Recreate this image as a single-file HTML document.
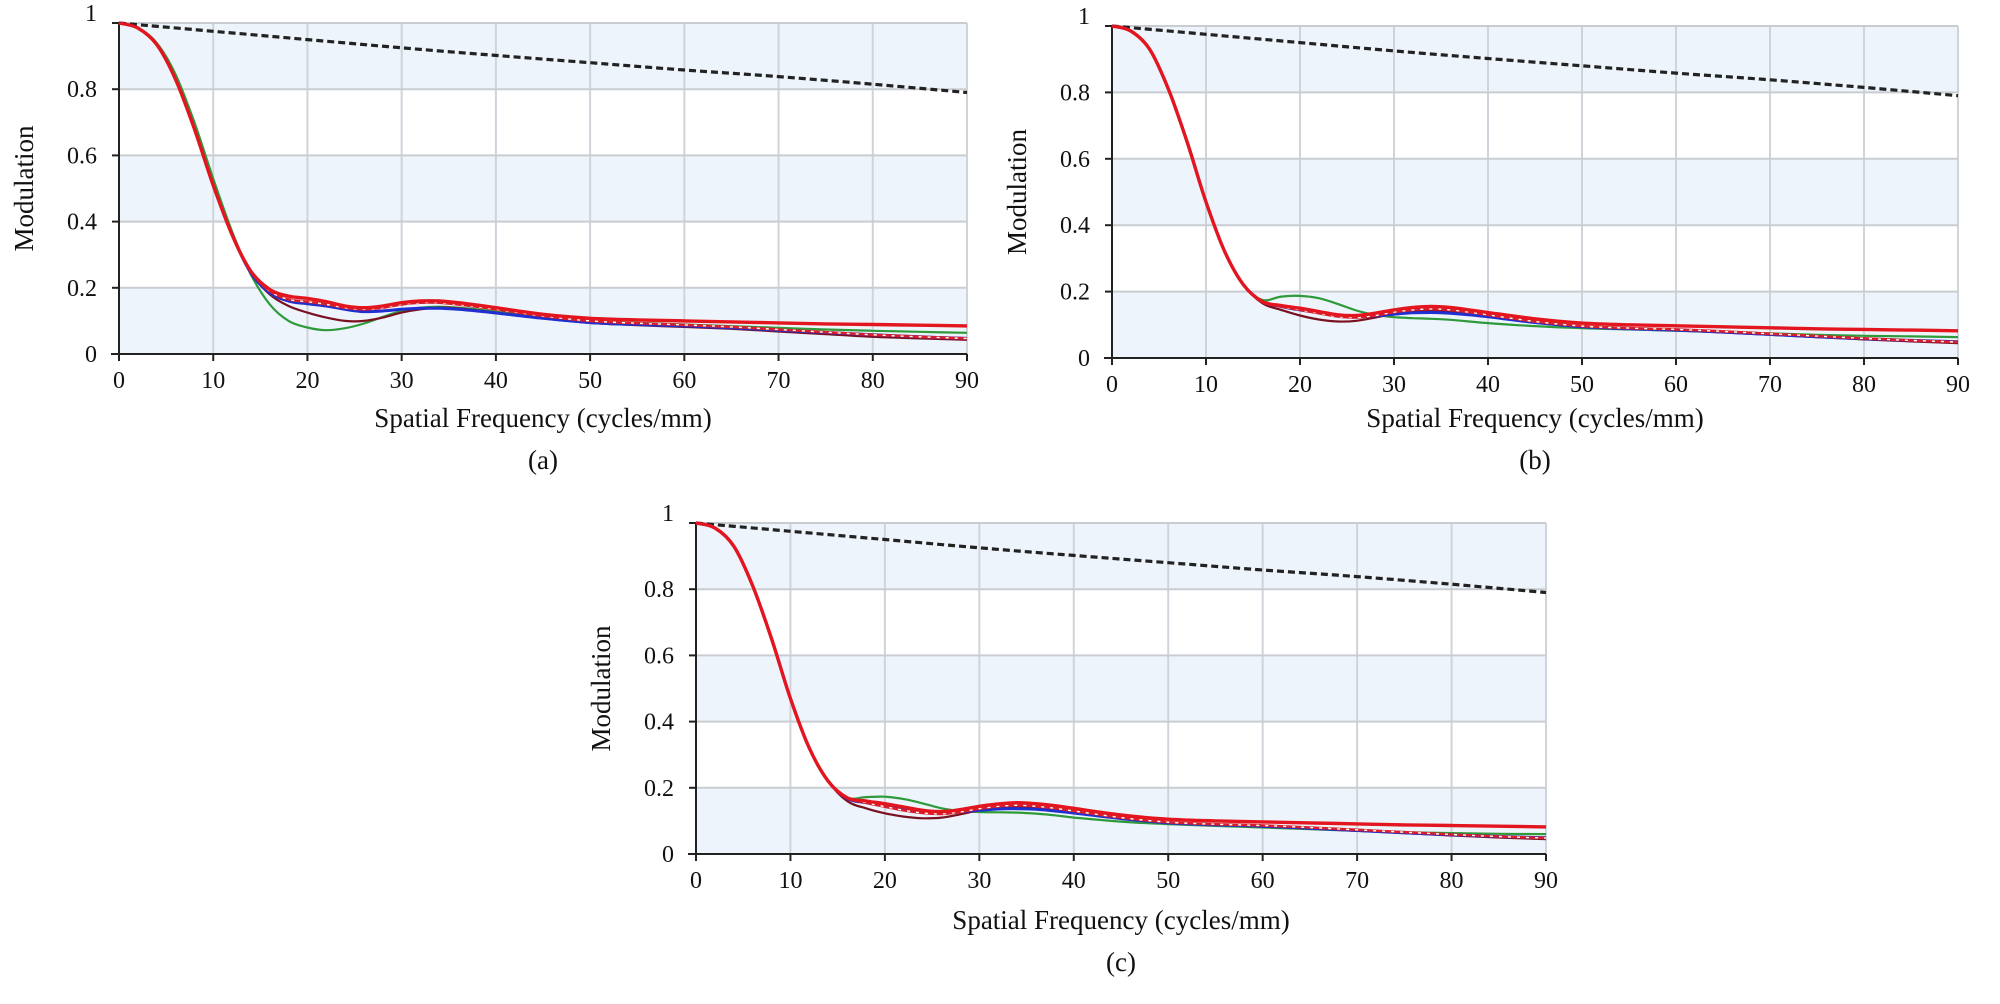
<!DOCTYPE html>
<html><head><meta charset="utf-8">
<style>
html,body{margin:0;padding:0;background:#fff;width:2000px;height:1004px;overflow:hidden}
svg{display:block}
text{font-family:"Liberation Serif",serif;fill:#111}
</style></head>
<body>
<svg id="fig" width="2000" height="1004" viewBox="0 0 2000 1004" xmlns="http://www.w3.org/2000/svg"></svg>
<script>
// ---- data ----
const freqs = [0,2,4,6,8,10,12,14,16,18,20,22,24,26,28,30,32,34,36,38,40,45,50,55,60,65,70,75,80,85,90];
const diffFreqs = [0,10,20,30,40,50,60,70,80,90];
const diffVals = [1,0.975,0.95,0.925,0.902,0.88,0.858,0.838,0.815,0.79];
const xTicks = [0,10,20,30,40,50,60,70,80,90];
const yTicks = [0,0.2,0.4,0.6,0.8,1];
const yTickLabels = ["0","0.2","0.4","0.6","0.8","1"];

// panel (a)
const aRed    = [1,0.985,0.935,0.83,0.68,0.51,0.36,0.25,0.195,0.175,0.168,0.158,0.145,0.14,0.145,0.155,0.16,0.16,0.155,0.148,0.14,0.12,0.108,0.103,0.1,0.097,0.094,0.091,0.089,0.087,0.085];
const aRed2   = [1,0.985,0.935,0.83,0.68,0.51,0.36,0.25,0.19,0.165,0.158,0.15,0.14,0.135,0.14,0.15,0.155,0.155,0.15,0.143,0.135,0.115,0.1,0.093,0.088,0.082,0.074,0.066,0.058,0.052,0.047];
const aGreen  = [1,0.985,0.94,0.845,0.7,0.53,0.37,0.24,0.15,0.1,0.08,0.072,0.078,0.092,0.112,0.13,0.14,0.143,0.14,0.135,0.128,0.112,0.1,0.094,0.089,0.084,0.079,0.074,0.07,0.067,0.064];
const aMaroon = [1,0.985,0.935,0.83,0.68,0.51,0.36,0.245,0.18,0.145,0.125,0.11,0.1,0.1,0.11,0.125,0.135,0.14,0.138,0.132,0.125,0.108,0.094,0.087,0.082,0.076,0.068,0.06,0.052,0.047,0.043];
const aBlue   = [1,0.985,0.935,0.83,0.68,0.51,0.36,0.245,0.185,0.16,0.152,0.145,0.135,0.128,0.13,0.135,0.138,0.138,0.135,0.13,0.124,0.108,0.095,0.089,0.085,0.079,0.072,0.065,0.058,0.052,0.047];

// panel (b)
const bRed    = [1,0.985,0.93,0.81,0.65,0.47,0.32,0.22,0.17,0.158,0.15,0.14,0.13,0.128,0.135,0.145,0.152,0.155,0.152,0.145,0.137,0.118,0.105,0.1,0.097,0.094,0.091,0.088,0.086,0.084,0.082];
const bRed2   = [1,0.985,0.93,0.81,0.65,0.47,0.32,0.22,0.17,0.155,0.145,0.135,0.125,0.122,0.128,0.138,0.145,0.148,0.145,0.138,0.13,0.11,0.096,0.09,0.086,0.08,0.073,0.066,0.059,0.053,0.048];
const bGreen  = [1,0.985,0.93,0.81,0.65,0.47,0.32,0.22,0.175,0.185,0.187,0.18,0.163,0.143,0.13,0.123,0.12,0.118,0.115,0.11,0.105,0.096,0.09,0.086,0.082,0.078,0.074,0.07,0.067,0.065,0.063];
const bMaroon = [1,0.985,0.93,0.81,0.65,0.47,0.32,0.22,0.165,0.145,0.128,0.116,0.11,0.112,0.122,0.133,0.14,0.142,0.14,0.134,0.127,0.108,0.094,0.088,0.083,0.077,0.07,0.063,0.056,0.05,0.045];
const bBlue   = [1,0.985,0.93,0.81,0.65,0.47,0.32,0.22,0.17,0.155,0.145,0.137,0.128,0.124,0.127,0.132,0.136,0.137,0.135,0.13,0.124,0.107,0.094,0.088,0.084,0.078,0.071,0.064,0.058,0.053,0.049];

// panel (c)
const cRed    = [1,0.985,0.93,0.81,0.65,0.47,0.32,0.22,0.17,0.16,0.152,0.142,0.132,0.128,0.134,0.144,0.151,0.155,0.152,0.146,0.138,0.118,0.105,0.1,0.097,0.094,0.091,0.088,0.086,0.084,0.082];
const cRed2   = [1,0.985,0.93,0.81,0.65,0.47,0.32,0.22,0.17,0.155,0.143,0.132,0.124,0.121,0.127,0.137,0.144,0.147,0.144,0.138,0.13,0.11,0.096,0.09,0.086,0.08,0.073,0.066,0.059,0.053,0.048];
const cGreen  = [1,0.985,0.93,0.81,0.65,0.47,0.32,0.22,0.17,0.172,0.173,0.166,0.153,0.138,0.13,0.127,0.126,0.125,0.122,0.117,0.11,0.098,0.09,0.085,0.08,0.075,0.07,0.066,0.063,0.061,0.06];
const cMaroon = [1,0.985,0.93,0.81,0.65,0.47,0.32,0.22,0.16,0.138,0.123,0.113,0.108,0.11,0.12,0.132,0.14,0.142,0.14,0.134,0.127,0.108,0.094,0.088,0.083,0.077,0.07,0.063,0.056,0.05,0.045];
const cBlue   = [1,0.985,0.93,0.81,0.65,0.47,0.32,0.22,0.168,0.155,0.146,0.138,0.13,0.126,0.128,0.132,0.136,0.137,0.135,0.13,0.124,0.107,0.094,0.088,0.084,0.078,0.071,0.064,0.058,0.053,0.049];

const panels = [
  {id:'a', x0:119, x1:967, yTop:23, yZero:354, label:'(a)', titleY:427, capY:469,
   series:[['green',aGreen],['maroon',aMaroon],['blue',aBlue],['red2',aRed2],['red',aRed]]},
  {id:'b', x0:1112, x1:1958, yTop:26, yZero:358, label:'(b)', titleY:427, capY:469,
   series:[['green',bGreen],['maroon',bMaroon],['blue',bBlue],['red2',bRed2],['red',bRed]]},
  {id:'c', x0:696, x1:1546, yTop:523, yZero:854, label:'(c)', titleY:929, capY:971,
   series:[['green',cGreen],['maroon',cMaroon],['blue',cBlue],['red2',cRed2],['red',cRed]]}
];
const styles = {
  green:{stroke:'#2e9a3a',w:2.2},
  maroon:{stroke:'#7a1020',w:2.2},
  blue:{stroke:'#1f2fd0',w:3},
  red2:{stroke:'#d81e2a',w:2.6},
  red:{stroke:'#e3161f',w:3.4}
};

const NS='http://www.w3.org/2000/svg';
const svg=document.getElementById('fig');
function mk(tag,attrs,parent){const e=document.createElementNS(NS,tag);for(const k in attrs)e.setAttribute(k,attrs[k]);(parent||svg).appendChild(e);return e;}
function smoothPath(pts){
  let d='M'+pts[0][0].toFixed(1)+','+pts[0][1].toFixed(1);
  for(let i=0;i<pts.length-1;i++){
    const p0=pts[i-1]||pts[i],p1=pts[i],p2=pts[i+1],p3=pts[i+2]||p2;
    const c1x=p1[0]+(p2[0]-p0[0])/6,c1y=p1[1]+(p2[1]-p0[1])/6;
    const c2x=p2[0]-(p3[0]-p1[0])/6,c2y=p2[1]-(p3[1]-p1[1])/6;
    d+=' C'+c1x.toFixed(1)+','+c1y.toFixed(1)+' '+c2x.toFixed(1)+','+c2y.toFixed(1)+' '+p2[0].toFixed(1)+','+p2[1].toFixed(1);
  }
  return d;
}

panels.forEach(p=>{
  const xS=v=>p.x0+(v/90)*(p.x1-p.x0);
  const yS=v=>p.yZero-v*(p.yZero-p.yTop);
  const g=mk('g',{});
  
  
  [[0,0.2],[0.4,0.6],[0.8,1]].forEach(b=>{
    const r=mk('rect',{x:p.x0,y:yS(b[1]),width:p.x1-p.x0,height:yS(b[0])-yS(b[1]),fill:'#edf4fb'},g);
    
    
  });
  xTicks.forEach(t=>{
    if(t===0)return;
    const l=mk('line',{x1:xS(t),x2:xS(t),y1:p.yTop,y2:p.yZero,stroke:'#cfd4da','stroke-width':2},g);
    
    
  });
  yTicks.forEach(t=>{
    if(t===0)return;
    const l=mk('line',{x1:p.x0,x2:p.x1,y1:yS(t),y2:yS(t),stroke:'#c9cdd2','stroke-width':2},g);
    
    
  });
  const ax=mk('line',{x1:p.x0-8,x2:p.x1,y1:p.yZero,y2:p.yZero,stroke:'#222','stroke-width':2},g);
  
  
  const ay=mk('line',{x1:p.x0,x2:p.x0,y1:p.yTop,y2:p.yZero+6,stroke:'#222','stroke-width':2},g);
  
  
  yTicks.forEach((t,i)=>{
    const tk=mk('line',{x1:p.x0-7,x2:p.x0,y1:yS(t),y2:yS(t),stroke:'#222','stroke-width':2},g);
    
    
    const tx=mk('text',{x:p.x0-22,y:yS(t)+(t===1?-2:8),'text-anchor':'end','font-size':24},g);
    tx.textContent=yTickLabels[i];
    
    
  });
  xTicks.forEach(t=>{
    const tk=mk('line',{x1:xS(t),x2:xS(t),y1:p.yZero,y2:p.yZero+7,stroke:'#222','stroke-width':2},g);
    
    
    const tx=mk('text',{x:xS(t),y:p.yZero+34,'text-anchor':'middle','font-size':24},g);
    tx.textContent=String(t);
    
    
  });
  const xt=mk('text',{x:(p.x0+p.x1)/2,y:p.titleY,'text-anchor':'middle','font-size':27},g);
  xt.textContent='Spatial Frequency (cycles/mm)';
  
  
  const yc=(p.yTop+p.yZero)/2;
  const yt=mk('text',{x:p.x0-86,y:yc,'text-anchor':'middle','font-size':27,transform:'rotate(-90 '+(p.x0-86)+' '+yc+')'},g);
  yt.textContent='Modulation';
  
  
  const cap=mk('text',{x:(p.x0+p.x1)/2,y:p.capY,'text-anchor':'middle','font-size':27},g);
  cap.textContent=p.label;
  
  
  const dl=mk('path',{d:smoothPath(diffFreqs.map((f,i)=>[xS(f),yS(diffVals[i])])),fill:'none',stroke:'#222','stroke-width':3.2,'stroke-dasharray':'7 4'},g);
  
  
  p.series.forEach(s=>{
    const st=styles[s[0]];
    const pts=freqs.map((f,i)=>[xS(f),yS(s[1][i])]);
    const path=mk('path',{d:smoothPath(pts),fill:'none',stroke:st.stroke,'stroke-width':st.w,'stroke-linejoin':'round'},g);
    
    
    if(s[0]==='red2'){
      const dd=mk('path',{d:smoothPath(pts),fill:'none',stroke:'#ffffff','stroke-width':1.4,'stroke-dasharray':'3 6'},g);
      
      
    }
  });
});
</script>
</body></html>
